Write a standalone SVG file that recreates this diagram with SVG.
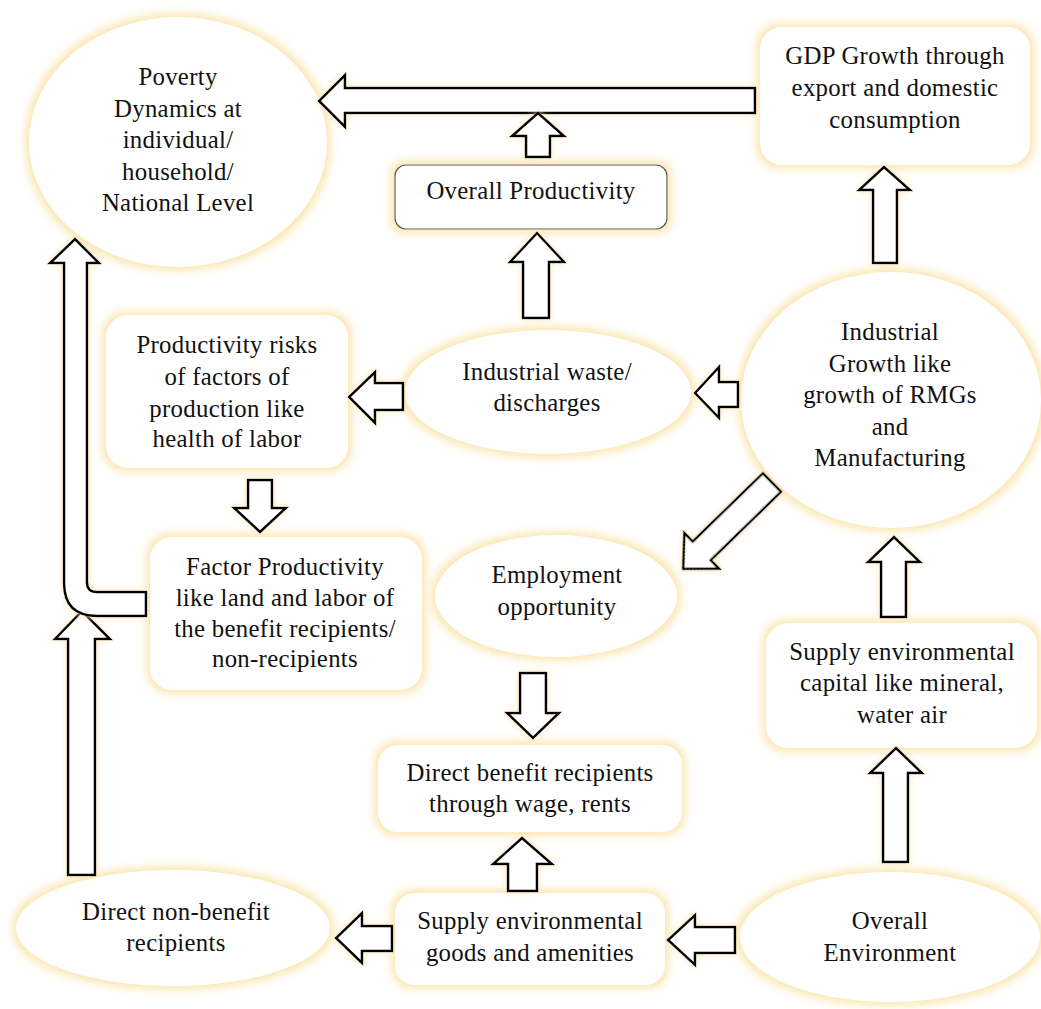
<svg xmlns="http://www.w3.org/2000/svg" width="1041" height="1009" viewBox="0 0 1041 1009">
<defs>
<filter id="glow" x="-20%" y="-20%" width="140%" height="140%">
<feMorphology in="SourceAlpha" operator="dilate" radius="3" result="d"/>
<feGaussianBlur in="d" stdDeviation="5" result="b"/>
<feFlood flood-color="#fbe3a8" result="c"/>
<feComposite in="c" in2="b" operator="in" result="g"/>
<feMerge><feMergeNode in="g"/><feMergeNode in="SourceGraphic"/></feMerge>
</filter>
<filter id="aglow" x="-30%" y="-30%" width="160%" height="160%">
<feGaussianBlur in="SourceAlpha" stdDeviation="3" result="b"/>
<feFlood flood-color="#fbe6b5" result="c"/>
<feComposite in="c" in2="b" operator="in" result="g"/>
<feMerge><feMergeNode in="g"/><feMergeNode in="SourceGraphic"/></feMerge>
</filter>
</defs>
<style>
.n{fill:#fff;stroke:none;filter:url(#glow)}
.nb{fill:#fff;stroke:#555;stroke-width:1.2;filter:url(#glow)}
.a{fill:#fff;stroke:#000;stroke-width:2.5;stroke-linejoin:miter;filter:url(#aglow)}
.t{font-size:24.8px;fill:#111;text-anchor:middle;letter-spacing:0.3px}
</style>
<rect width="1041" height="1009" fill="#fff"/>

<g font-family="Liberation Serif, DejaVu Serif, serif">
<g id="node-poverty">
<ellipse class="n" cx="178" cy="142" rx="149" ry="125"/>
<text class="t" x="178" y="85">Poverty</text>
<text class="t" x="178" y="117">Dynamics at</text>
<text class="t" x="178" y="148">individual/</text>
<text class="t" x="178" y="180">household/</text>
<text class="t" x="178" y="211">National Level</text>
</g>

<g id="node-gdp">
<rect class="n" x="760" y="27" width="270" height="138" rx="22"/>
<text class="t" x="895" y="64">GDP Growth through</text>
<text class="t" x="895" y="96">export and domestic</text>
<text class="t" x="895" y="128">consumption</text>
</g>

<g id="node-overall-productivity">
<rect class="nb" x="395" y="165" width="272" height="64" rx="11"/>
<text class="t" x="531" y="199">Overall Productivity</text>
</g>

<g id="node-industrial-waste">
<ellipse class="n" cx="548" cy="392" rx="143" ry="62"/>
<text class="t" x="547" y="380">Industrial waste/</text>
<text class="t" x="547" y="411">discharges</text>
</g>

<g id="node-productivity-risks">
<rect class="n" x="106" y="315" width="242" height="153" rx="22"/>
<text class="t" x="227" y="353">Productivity risks</text>
<text class="t" x="227" y="385">of factors of</text>
<text class="t" x="227" y="417">production like</text>
<text class="t" x="227" y="447">health of labor</text>
</g>

<g id="node-industrial-growth">
<ellipse class="n" cx="891" cy="400" rx="150" ry="128"/>
<text class="t" x="890" y="340">Industrial</text>
<text class="t" x="890" y="372">Growth like</text>
<text class="t" x="890" y="403">growth of RMGs</text>
<text class="t" x="890" y="435">and</text>
<text class="t" x="890" y="466">Manufacturing</text>
</g>

<g id="node-factor-productivity">
<rect class="n" x="150" y="537" width="272" height="153" rx="22"/>
<text class="t" x="285" y="575">Factor Productivity</text>
<text class="t" x="285" y="606">like land and labor of</text>
<text class="t" x="285" y="637">the benefit recipients/</text>
<text class="t" x="285" y="667">non-recipients</text>
</g>

<g id="node-employment">
<ellipse class="n" cx="556" cy="596" rx="121" ry="61"/>
<text class="t" x="557" y="583">Employment</text>
<text class="t" x="557" y="615">opportunity</text>
</g>

<g id="node-supply-capital">
<rect class="n" x="766" y="623" width="271" height="125" rx="22"/>
<text class="t" x="902" y="660">Supply environmental</text>
<text class="t" x="902" y="691">capital like mineral,</text>
<text class="t" x="902" y="723">water air</text>
</g>

<g id="node-direct-benefit">
<rect class="n" x="378" y="745" width="304" height="87" rx="20"/>
<text class="t" x="530" y="781">Direct benefit recipients</text>
<text class="t" x="530" y="812">through wage, rents</text>
</g>

<g id="node-direct-non-benefit">
<ellipse class="n" cx="173" cy="928" rx="157" ry="58"/>
<text class="t" x="176" y="920">Direct non-benefit</text>
<text class="t" x="176" y="951">recipients</text>
</g>

<g id="node-supply-goods">
<rect class="n" x="395" y="893" width="270" height="92" rx="20"/>
<text class="t" x="530" y="929">Supply environmental</text>
<text class="t" x="530" y="961">goods and amenities</text>
</g>

<g id="node-overall-environment">
<ellipse class="n" cx="890" cy="937" rx="150" ry="65"/>
<text class="t" x="890" y="929">Overall</text>
<text class="t" x="890" y="961">Environment</text>
</g>
</g>

<g id="connectors">
<polygon class="a" points="755,88 345,88 345,75 319,101 345,127 345,113 755,113"/>
<polygon class="a" points="526,157 526,136 512,136 538,113 564,136 550,136 550,157"/>
<polygon class="a" points="523,318 523,262 510,262 537,233 564,262 549,262 549,318"/>
<polygon class="a" points="403,383 375,383 375,372 349,397 375,423 375,410 403,410"/>
<polygon class="a" points="248,480 272,480 272,508 286,508 260,532 234,508 248,508"/>
<polygon class="a" points="68,875 68,639 55,639 82,611 110,639 95,639 95,875"/>
<path class="a" d="M146,592 L97,592 Q87,592 87,582 L87,263 L99,263 L75,239 L50,263 L64,263 L64,583 Q64,616 97,616 L146,616 Z"/>
<polygon class="a" points="392,926 362,926 362,913 336,938 362,963 362,951 392,951"/>
<polygon class="a" points="508,891 508,864 493,864 522,838 552,864 537,864 537,891"/>
<polygon class="a" points="520,673 546,673 546,713 559,713 533,738 507,713 520,713"/>
<polygon class="a" transform="translate(772,482.5) rotate(135.8)" points="0,-13 98,-13 98,-25 124,0 98,25 98,13 0,13"/>
<polygon class="a" points="738,382 719,382 719,367 695,393 719,418 719,407 738,407"/>
<polygon class="a" points="873,263 873,190 859,190 884,167 910,190 897,190 897,263"/>
<polygon class="a" points="881,617 881,562 868,562 894,537 920,562 906,562 906,617"/>
<polygon class="a" points="883,862 883,773 870,773 896,748 922,773 908,773 908,862"/>
<polygon class="a" points="735,927 695,927 695,915 668,940 695,965 695,953 735,953"/>
</g>
</svg>
